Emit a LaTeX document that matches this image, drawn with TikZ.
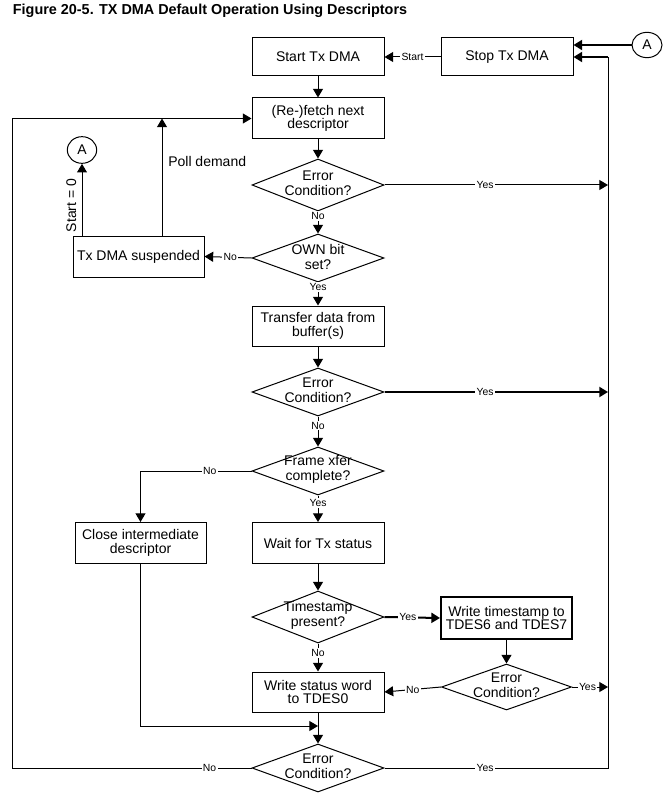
\documentclass[tikz,border=0pt]{standalone}
\usepackage{fontspec}
\setmainfont{Liberation Sans}
\usetikzlibrary{arrows.meta,shapes.geometric}
\begin{document}
\begin{tikzpicture}[x=0.75pt,y=-0.75pt,
  line width=0.75pt,
  >={Triangle[length=6.5pt,width=7.5pt]},
  box/.style={draw, rectangle, minimum width=99pt, minimum height=30pt, inner sep=1pt,
    align=center, font=\fontsize{10.5pt}{10pt}\selectfont},
  dia/.style={draw, diamond, minimum width=99pt, minimum height=36pt, inner sep=0pt},
  dtxt/.style={align=center, inner sep=0pt, yshift=1pt, font=\fontsize{10.5pt}{11.25pt}\selectfont},
  conn/.style={draw, circle, minimum size=20pt, inner sep=0pt, font=\fontsize{10.5pt}{12pt}\selectfont},
  lbl/.style={fill=white, inner sep=1pt, font=\fontsize{7.8pt}{8pt}\selectfont},
  big/.style={font=\fontsize{10.5pt}{12pt}\selectfont},
  heavy/.style={line width=1.5pt}]
\useasboundingbox (0,0) rectangle (668,802);

\node[anchor=base west, font=\bfseries\fontsize{10.8pt}{12pt}\selectfont] (title) at (8,15)
  {Figure 20-5. TX DMA Default Operation Using Descriptors};

% boxes
\node[box, minimum height=28.5pt] (start) at (318,57) {Start Tx DMA};
\node[box, minimum height=28.5pt] (stop) at (507,57) {Stop Tx DMA};
\node[box, minimum height=30.75pt] (fetch) at (318,118.5) {(Re-)fetch next\\descriptor};
\node[box, minimum width=98.25pt, minimum height=30.75pt] (susp) at (138.5,256.5) {Tx DMA suspended};
\node[box] (xfer) at (318,326) {Transfer data from\\buffer(s)};
\node[box, minimum width=98.25pt, minimum height=30.75pt] (close) at (140.5,543) {Close intermediate\\descriptor};
\node[box, minimum height=30.75pt] (wait) at (318,543) {Wait for Tx status};
\node[box, heavy, minimum width=98.25pt, minimum height=31.5pt] (wts) at (506.5,618) {Write timestamp to\\TDES6 and TDES7};
\node[box] (wsw) at (318,692) {Write status word\\to TDES0};

% connectors A
\node[conn, ellipse, minimum width=22.5pt, minimum height=19pt] (ar) at (647,45) {A};
\node[conn, ellipse, minimum width=22pt, minimum height=20pt] (al) at (82,150) {A};

% diamonds
\node[dia, minimum height=39pt, label={[dtxt]center:Error\\Condition?}] (d1) at (318,185) {};
\node[dia, label={[dtxt]center:OWN bit\\set?}] (d2) at (318,258) {};
\node[dia, label={[dtxt]center:Error\\Condition?}] (d3) at (318,392) {};
\node[dia, label={[dtxt]center:Frame xfer\\complete?}] (d4) at (318,471) {};
\node[dia, minimum height=39pt, label={[dtxt]center:Timestamp\\present?}] (d5) at (318,617) {};
\node[dia, minimum width=97.5pt, minimum height=34.5pt, label={[dtxt]center:Error\\Condition?}] (d6) at (506.5,687) {};
\node[dia, label={[dtxt]center:Error\\Condition?}] (d7) at (318,768) {};

% helper coordinates
\coordinate (rb) at (608,768);
\coordinate (rt) at (608,57);
\coordinate (lb) at (12,768);
\coordinate (lt) at (12,118.5);
\coordinate (pt) at (162,118.5);
\coordinate (mj) at (318,726);

% top
\draw[->] (stop.west) -- node[lbl]{Start} (start.east);
\draw[->, heavy] (ar.west) -- (ar.west -| stop.east);
\draw (d7.east) -- node[lbl, pos=0.45]{Yes} (rb) -- (rt);
\draw[->, heavy] (rt) -- (rt -| stop.east);
\draw[->] (start.south) -- (fetch.north);

% left loop
\draw[->] (d7.west) -- node[lbl, pos=0.175]{No} (lb) -- (lt) -- (fetch.west);
\draw[->] (pt |- susp.north) -- node[pos=0.63, right, big, xshift=1pt]{Poll demand} (pt);
\draw[->] (al.south |- susp.north) -- node[pos=0.42, sloped, above, big, inner sep=4pt]{Start = 0} (al.south);

% main column
\draw[->] (fetch.south) -- (d1.north);
\draw[->] (d1.east) -- node[lbl, pos=0.45]{Yes} (d1.east -| rb);
\draw[->] (d1.south) -- node[lbl, pos=0.2]{No} (d2.north);
\draw[->] (d2.west) -- node[lbl, pos=0.45]{No} (susp.east);
\draw[->] (d2.south) -- node[lbl, pos=0.2]{Yes} (xfer.north);
\draw[->] (xfer.south) -- (d3.north);
\draw[->, heavy] (d3.east) -- node[lbl, pos=0.45]{Yes} (d3.east -| rb);
\draw[->] (d3.south) -- node[lbl, pos=0.3]{No} (d4.north);
\draw[->] (d4.west) -- node[lbl, pos=0.375]{No} (close.north |- d4.west) -- (close.north);
\draw[->] (d4.south) -- node[lbl, pos=0.28]{Yes} (wait.north);
\draw[->] (wait.south) -- (d5.north);
\draw[->, heavy] (d5.east) -- node[lbl, pos=0.42]{Yes} (wts.west);
\draw[->] (d5.south) -- node[lbl, pos=0.35]{No} (wsw.north);
\draw[->] (wts.south) -- (d6.north);
\draw[->] (d6.west) -- node[lbl, pos=0.5]{No} (wsw.east);
\draw[->] (d6.east) -- node[lbl, pos=0.43]{Yes} (d6.east -| rb);
\draw[->] (wsw.south) -- (d7.north);
\draw[->] (close.south) -- (close.south |- mj) -- (mj);
\end{tikzpicture}
\end{document}
